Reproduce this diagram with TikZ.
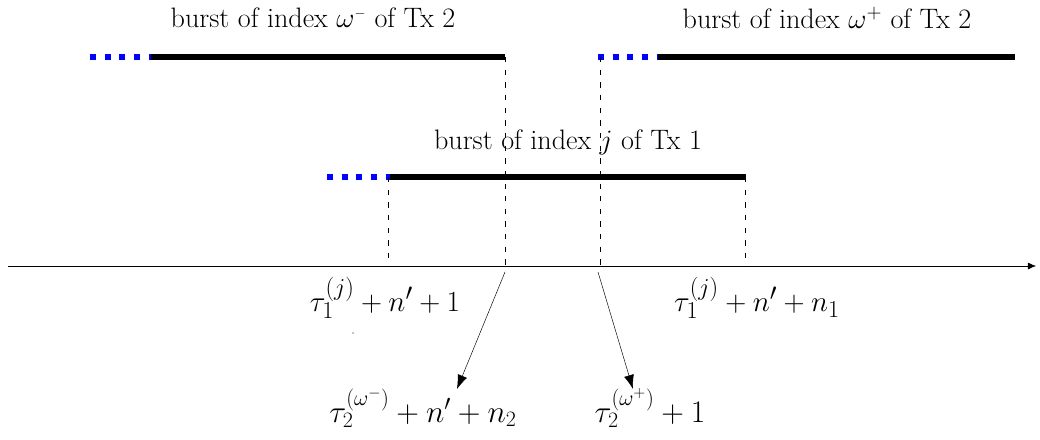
\RequirePackage{fix-cm}
\documentclass[tikz,border=0pt]{standalone}
\usetikzlibrary{arrows.meta}
\begin{document}
\begin{tikzpicture}[x=0.03cm,y=-0.03cm,
  burst/.style={line width=5.2pt},
  pre/.style={line width=5.2pt,blue,dash pattern=on 5pt off 7.5pt},
  guide/.style={thin,dash pattern=on 4.5pt off 6.3pt},
  ttl/.style={inner sep=0pt,font=\fontsize{24}{26}\selectfont},
  mlab/.style={inner sep=0pt,font=\fontsize{24.88}{28}\selectfont},
  blab/.style={inner sep=0pt,font=\fontsize{26.8}{30}\selectfont},
  ptr/.style={-{Latex[length=12pt,width=8.5pt]},thin}]
\useasboundingbox (0,0) rectangle (1040,439);
% coordinates
\coordinate (a1) at (90,57);  \coordinate (a2) at (151,57); \coordinate (a3) at (505,57);
\coordinate (b1) at (598,57); \coordinate (b2) at (658,57); \coordinate (b3) at (1015,57);
\coordinate (c1) at (327,177); \coordinate (c2) at (390,177); \coordinate (c3) at (746,177);
\coordinate (x0) at (8,266); \coordinate (x1) at (1036,266);
\coordinate (g1) at (388,177); \coordinate (g1b) at (388,266);
\coordinate (g2) at (505,57);  \coordinate (g2b) at (505,266);
\coordinate (g3) at (600,57);  \coordinate (g3b) at (600,266);
\coordinate (g4) at (745,177); \coordinate (g4b) at (745,266);
\coordinate (p1) at (505,272); \coordinate (p2) at (598,272);
\coordinate (q1) at (457,389); \coordinate (q2) at (633,389);
% bursts
\draw[pre] (a1) -- (a2);
\draw[burst] (a2) -- (a3);
\draw[pre] (b1) -- (b2);
\draw[burst] (b2) -- (b3);
\draw[pre] (c1) -- (c2);
\draw[burst] (c2) -- (c3);
% guides
\draw[guide] (g1) -- (g1b);
\draw[guide] (g2) -- (g2b);
\draw[guide] (g3) -- (g3b);
\draw[guide] (g4) -- (g4b);
% axis
\draw[thin,-{Latex[length=7pt,width=6pt]}] (x0) -- (x1);
% titles
\node[ttl] (t1) at (313,18) {burst of index $\omega^{\scriptscriptstyle-}$ of Tx 2};
\node[ttl] (t2) at (827,18) {burst of index $\omega^{+}$ of Tx 2};
\node[ttl] (t3) at (568,142) {burst of index $j$ of Tx 1};
% axis labels
\node[mlab] (l1) at (385,298) {$\tau_1^{(j)}+n'+1$};
\node[mlab] (l2) at (757,298) {$\tau_1^{(j)}+n'+n_1$};
\fill (353,333) circle (0.7);
% bottom labels
\node[blab] (l3) at (423,408) {$\tau_2^{(\omega^-)}+n'+n_2$};
\node[blab] (l4) at (650,408) {$\tau_2^{(\omega^+)}+1$};
\draw[ptr] (p1) -- (q1);
\draw[ptr] (p2) -- (q2);
\end{tikzpicture}
\end{document}
